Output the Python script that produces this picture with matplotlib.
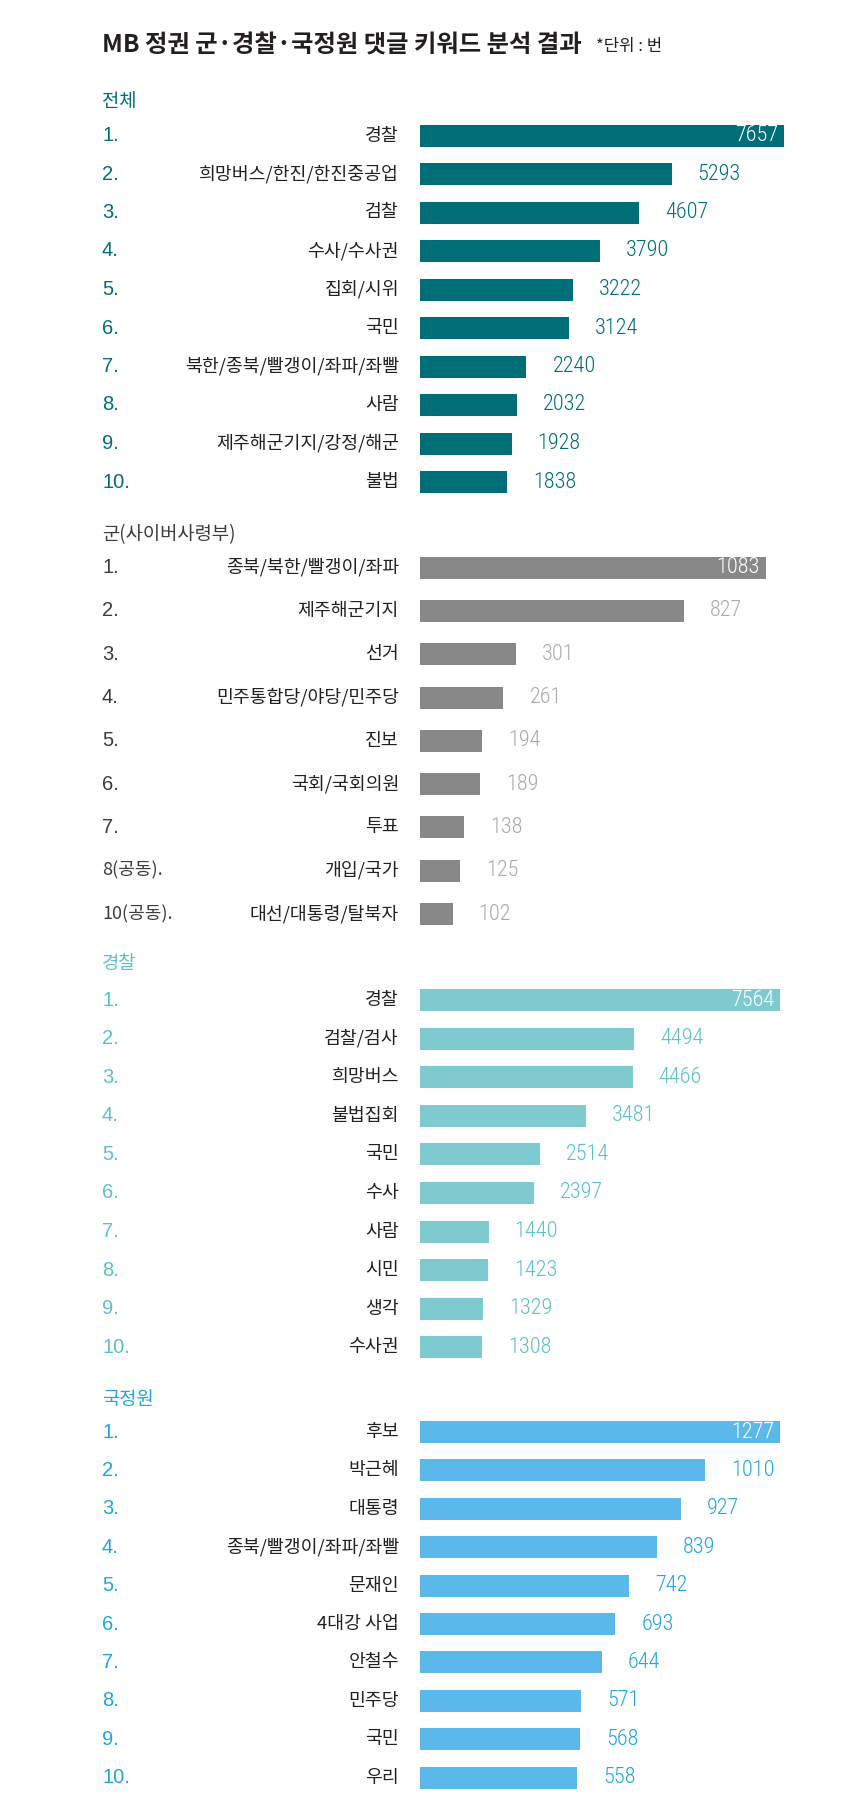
import matplotlib
matplotlib.use('Agg')
import matplotlib.pyplot as plt
from matplotlib import font_manager as fm
from matplotlib.transforms import blended_transform_factory

W, H = 860, 1818
names = {f.name for f in fm.fontManager.ttflist}
NUM = next((n for n in ['Roboto Condensed', 'Liberation Sans Narrow', 'Roboto'] if n in names), 'DejaVu Sans')
KR = ['Noto Sans CJK KR', 'DejaVu Sans']
RANKF = ['Liberation Sans', 'DejaVu Sans']

title = 'MB 정권 군·경찰·국정원 댓글 키워드 분석 결과'
unit = '*단위 : 번'

total_header = '전체'
total_ranks = ['1.', '2.', '3.', '4.', '5.', '6.', '7.', '8.', '9.', '10.']
total_labels = ['경찰', '희망버스/한진/한진중공업', '검찰', '수사/수사권', '집회/시위', '국민',
                '북한/종북/빨갱이/좌파/좌빨', '사람', '제주해군기지/강정/해군', '불법']
total_values = [7657, 5293, 4607, 3790, 3222, 3124, 2240, 2032, 1928, 1838]

army_header = '군(사이버사령부)'
army_ranks = ['1.', '2.', '3.', '4.', '5.', '6.', '7.', '8(공동).', '10(공동).']
army_labels = ['종북/북한/빨갱이/좌파', '제주해군기지', '선거', '민주통합당/야당/민주당', '진보',
               '국회/국회의원', '투표', '개입/국가', '대선/대통령/탈북자']
army_values = [1083, 827, 301, 261, 194, 189, 138, 125, 102]

police_header = '경찰'
police_ranks = ['1.', '2.', '3.', '4.', '5.', '6.', '7.', '8.', '9.', '10.']
police_labels = ['경찰', '검찰/검사', '희망버스', '불법집회', '국민', '수사', '사람', '시민', '생각', '수사권']
police_values = [7564, 4494, 4466, 3481, 2514, 2397, 1440, 1423, 1329, 1308]

nis_header = '국정원'
nis_ranks = ['1.', '2.', '3.', '4.', '5.', '6.', '7.', '8.', '9.', '10.']
nis_labels = ['후보', '박근혜', '대통령', '종북/빨갱이/좌파/좌빨', '문재인', '4대강 사업', '안철수',
              '민주당', '국민', '우리']
nis_values = [1277, 1010, 927, 839, 742, 693, 644, 571, 568, 558]

fig = plt.figure(figsize=(W / 100, H / 100), dpi=100)
fig.patch.set_facecolor('white')

BAR_X = 420
RANK_X = 102
LABEL_X = 399
LABEL_COLOR = '#231f20'


def section(header, ranks, labels, values, y_header, y0, dy, maxlen,
            bar_color, header_color, rank_color, value_color):
    n = len(values)
    top = y0 - dy / 2
    bottom = y0 + (n - 1) * dy + dy / 2
    ax = fig.add_axes([BAR_X / W, 1 - bottom / H, (W - BAR_X) / W, (bottom - top) / H])
    ax.set_xlim(0, max(values) * (W - BAR_X) / maxlen)
    ax.set_ylim(n - 0.5, -0.5)
    ax.axis('off')
    ax.barh(range(n), values, height=22 / dy, color=bar_color, linewidth=0)
    trans = blended_transform_factory(fig.transFigure, ax.transData)
    for i, (r, lab, v) in enumerate(zip(ranks, labels, values)):
        ax.text(RANK_X / W, i, r, transform=trans, ha='left', va='center',
                fontsize=13 if '(' in r else 14.5, color=rank_color,
                family=KR if '(' in r else RANKF)
        ax.text(LABEL_X / W, i, lab, transform=trans, ha='right', va='center',
                fontsize=13.2, color=LABEL_COLOR, family=KR)
        if i == 0:
            ax.annotate(str(v), (v, i), xytext=(-6, 0), textcoords='offset pixels',
                        ha='right', va='center', fontsize=16, fontweight='light',
                        color='white', family=NUM)
        else:
            ax.annotate(str(v), (v, i), xytext=(26, 0), textcoords='offset pixels',
                        ha='left', va='center', fontsize=16, fontweight='light',
                        color=value_color, family=NUM)
    fig.text(RANK_X / W, 1 - y_header / H, header, ha='left', va='center',
             fontsize=13.5, color=header_color, family=KR)


section(total_header, total_ranks, total_labels, total_values, 102, 135.5, 38.5, 364,
        '#006e77', '#006e77', '#006e77', '#006e77')
section(army_header, army_ranks, army_labels, army_values, 535, 567.6, 43.3, 346,
        '#888888', '#3c3c3c', '#3c3c3c', '#a9a9b0')
section(police_header, police_ranks, police_labels, police_values, 964, 1000, 38.6, 360,
        '#7ecacf', '#5cc0c7', '#5cc0c7', '#5cc0c7')
section(nis_header, nis_ranks, nis_labels, nis_values, 1399, 1432, 38.4, 360,
        '#5bb8ea', '#1ea6e1', '#1ea6e1', '#1ea6e1')

t = fig.text(RANK_X / W, 1 - 46 / H, title, ha='left', va='center', fontsize=17.5,
             fontweight='bold', color='#231f20', family=KR)
fig.canvas.draw()
bb = t.get_window_extent()
fig.text((bb.x1 + 14) / W, 1 - 46 / H, unit, ha='left', va='center', fontsize=12,
         color='#231f20', family=KR)

fig.savefig('out.png', dpi=100, facecolor='white')
